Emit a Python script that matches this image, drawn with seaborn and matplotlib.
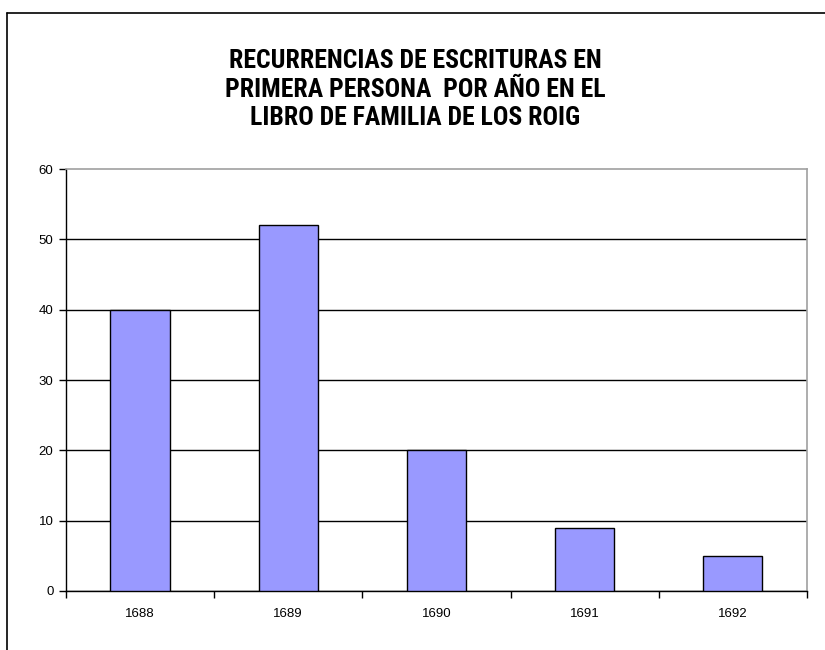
import matplotlib
matplotlib.use("Agg")
import matplotlib.pyplot as plt
import seaborn as sns
import pandas as pd
from matplotlib.lines import Line2D
from matplotlib.ticker import FixedLocator

years = ["1688", "1689", "1690", "1691", "1692"]
counts = [40, 52, 20, 9, 5]
y_ticks = [0, 10, 20, 30, 40, 50, 60]
title = "RECURRENCIAS DE ESCRITURAS EN\nPRIMERA PERSONA  POR AÑO EN EL\nLIBRO DE FAMILIA DE LOS ROIG"

sns.set_style("white")
plt.rcParams["font.family"] = ["Liberation Sans", "DejaVu Sans"]
plt.rcParams["text.color"] = "black"
plt.rcParams["xtick.color"] = "black"
plt.rcParams["ytick.color"] = "black"

df = pd.DataFrame({"year": years, "count": counts})

fig = plt.figure(figsize=(8.25, 6.5), dpi=100)
ax = fig.add_axes([0.08, 0.0908, 0.898, 0.649])

sns.barplot(data=df, x="year", y="count", color="#9999FF", saturation=1,
            width=0.4, edgecolor="black", linewidth=1, ax=ax, zorder=3)

ax.set_xlim(-0.5, len(years) - 0.5)
ax.set_ylim(0, 60)
ax.set_yticks(y_ticks)
ax.set_xlabel("")
ax.set_ylabel("")

# gridlines black, top one hidden (grey frame line instead)
ax.yaxis.grid(True, color="black", linewidth=1)
ax.set_axisbelow(True)
ax.get_ygridlines()[-1].set_visible(False)

for side in ["top", "right"]:
    ax.spines[side].set_color("#a0a0a0")
    ax.spines[side].set_linewidth(1.2)
for side in ["left", "bottom"]:
    ax.spines[side].set_color("black")
    ax.spines[side].set_linewidth(1)

ax.xaxis.set_minor_locator(FixedLocator([i - 0.5 for i in range(len(years) + 1)]))
ax.tick_params(axis="x", which="major", length=0, labelsize=9.5, pad=12)
ax.tick_params(axis="x", which="minor", length=5, width=1, color="black", direction="out")
ax.tick_params(axis="y", length=5, width=1, color="black", direction="out", labelsize=9.5, pad=4)
ax.tick_params(bottom=True, left=True, which="both")

# Excel-style title, condensed bold face
fig.text(0.503, 0.862, title, ha="center", va="center", fontsize=18.5,
         fontweight="bold", linespacing=1.25, color="black",
         family=["Roboto Condensed", "Liberation Sans"])

# outer chart frame (only top and left visible)
fig.add_artist(Line2D([0.0085, 1.0], [0.98, 0.98], color="black", linewidth=1.2,
                      transform=fig.transFigure))
fig.add_artist(Line2D([0.0085, 0.0085], [0.0, 0.98], color="black", linewidth=1.2,
                      transform=fig.transFigure))

fig.savefig("out.png", dpi=100)
